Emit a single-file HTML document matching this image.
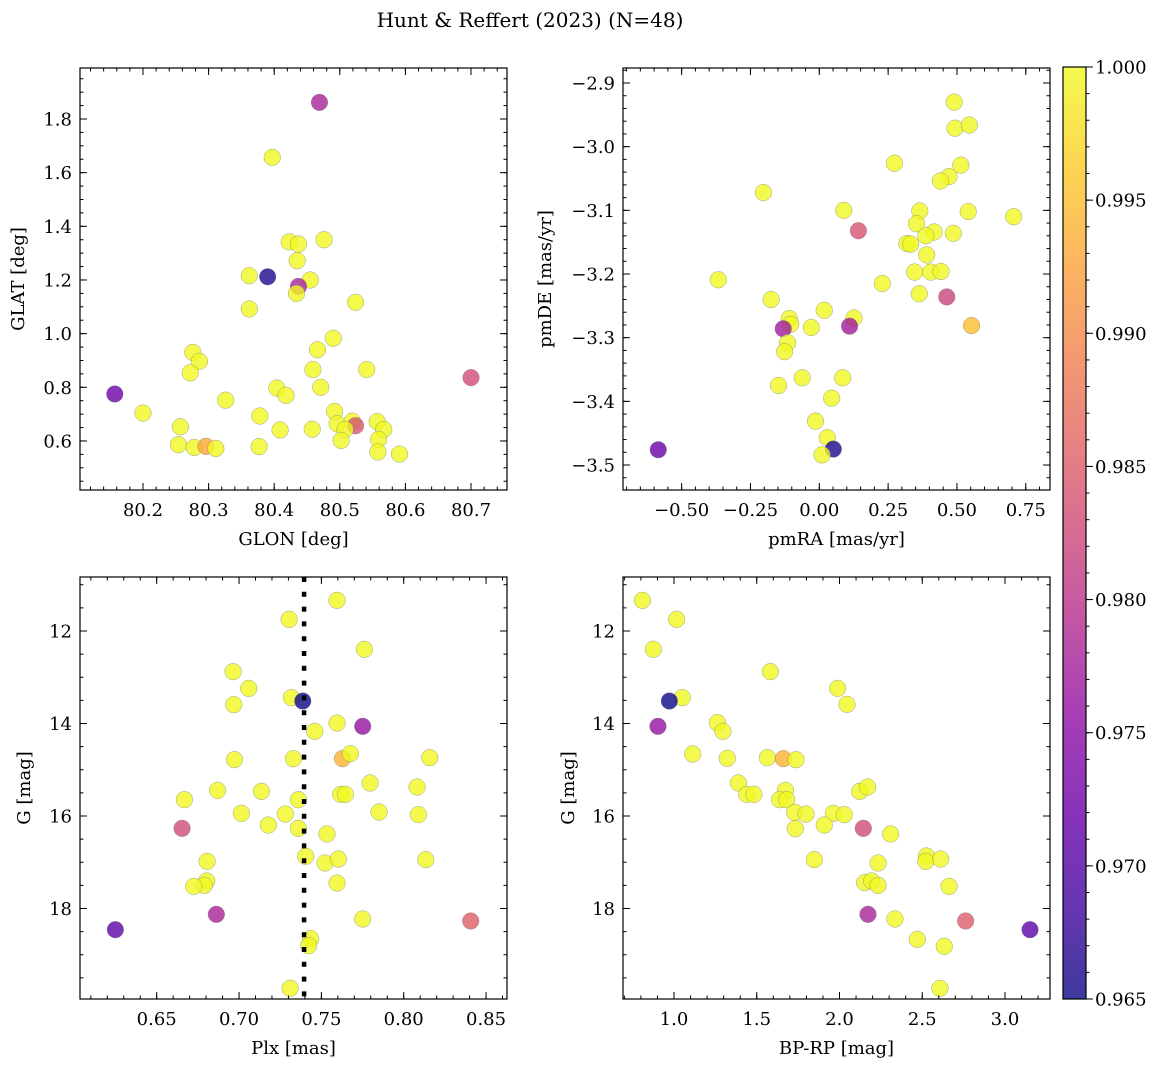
<!DOCTYPE html>
<html><head><meta charset="utf-8"><style>
html,body{margin:0;padding:0;background:#fff;}
svg{display:block;font-family:"DejaVu Serif","Liberation Serif",serif;}
text{font-family:"DejaVu Serif","Liberation Serif",serif;}
</style></head><body>
<svg id="fig" width="1160" height="1067" viewBox="0 0 1160 1067" xmlns="http://www.w3.org/2000/svg">
<text x="530" y="27" font-size="20" text-anchor="middle">Hunt &amp; Reffert (2023) (N=48)</text>
</svg>
<script>
// ---- data ----
const tlGlon=[80.469,80.397,80.423,80.437,80.476,80.435,80.362,80.390,80.455,80.437,80.434,80.524,80.362,80.490,80.466,80.276,80.286,80.272,80.459,80.541,80.700,80.157,80.404,80.418,80.471,80.326,80.200,80.378,80.492,80.496,80.519,80.524,80.508,80.557,80.567,80.559,80.558,80.591,80.502,80.458,80.409,80.377,80.257,80.254,80.278,80.296,80.311];
const tlGlat=[1.862,1.657,1.342,1.334,1.350,1.272,1.216,1.212,1.200,1.176,1.150,1.117,1.092,0.983,0.940,0.930,0.897,0.854,0.866,0.866,0.836,0.775,0.797,0.770,0.800,0.752,0.704,0.693,0.710,0.664,0.674,0.657,0.643,0.672,0.643,0.606,0.559,0.551,0.602,0.644,0.641,0.579,0.653,0.586,0.576,0.580,0.572];
const tlProb=[0.978,1,1,1,1,1,1,0.966,1,0.978,1,1,1,1,1,1,1,1,1,1,0.983,0.972,1,1,1,1,1,1,1,1,1,0.984,1,1,1,1,1,1,1,1,1,1,1,1,1,0.993,1];

const trPmra=[0.490,0.493,0.545,0.273,0.514,0.471,0.440,-0.203,0.089,0.365,0.541,0.706,0.142,0.353,0.417,0.387,0.487,0.318,0.332,0.390,0.346,0.405,0.442,-0.367,0.229,0.363,0.463,-0.175,0.018,-0.109,0.126,-0.104,-0.131,0.110,-0.029,0.553,-0.115,-0.126,-0.062,0.085,-0.148,0.045,-0.014,0.029,0.051,0.010,-0.585];
const trPmde=[-2.930,-2.971,-2.966,-3.026,-3.029,-3.047,-3.054,-3.072,-3.100,-3.101,-3.102,-3.110,-3.132,-3.121,-3.134,-3.140,-3.136,-3.152,-3.153,-3.170,-3.197,-3.197,-3.196,-3.209,-3.215,-3.231,-3.236,-3.240,-3.257,-3.270,-3.269,-3.279,-3.286,-3.282,-3.284,-3.281,-3.308,-3.322,-3.363,-3.363,-3.375,-3.395,-3.431,-3.457,-3.475,-3.484,-3.476];
const trProb=[1,1,1,1,1,1,1,1,1,1,1,1,0.984,1,1,1,1,1,1,1,1,1,1,1,1,1,0.982,1,1,1,1,1,0.977,0.977,1,0.995,1,1,1,1,1,1,1,1,0.966,1,0.972];

const blPlx=[0.7595,0.7304,0.7761,0.6964,0.7059,0.7318,0.7387,0.6968,0.7595,0.7751,0.7460,0.6972,0.7330,0.7628,0.7676,0.8158,0.7796,0.8081,0.6870,0.7136,0.6668,0.7360,0.7617,0.7646,0.7014,0.7281,0.7850,0.8089,0.6654,0.7178,0.7360,0.7534,0.7405,0.7522,0.7603,0.8134,0.6806,0.6804,0.6789,0.6725,0.7595,0.6862,0.7751,0.8407,0.6249,0.7435,0.7423,0.7310];
const blG=[11.337,11.748,12.396,12.879,13.240,13.441,13.514,13.593,13.989,14.061,14.169,14.782,14.760,14.760,14.652,14.739,15.286,15.373,15.445,15.467,15.647,15.647,15.532,15.532,15.942,15.957,15.914,15.971,16.267,16.195,16.267,16.389,16.872,17.016,16.930,16.944,16.980,17.405,17.499,17.521,17.449,18.126,18.227,18.270,18.458,18.652,18.804,19.726];
const blProb=[1,1,1,1,1,1,0.965,1,1,0.976,1,1,1,0.994,1,1,1,1,1,1,1,1,1,1,1,1,1,1,0.983,1,1,1,1,1,1,1,1,1,1,1,1,0.978,1,0.985,0.971,1,1,1];
const plxMean=[0.7395];

const brBprp=[0.809,1.016,0.875,1.582,1.989,2.045,1.050,0.972,0.903,1.262,1.296,1.113,1.322,1.564,1.661,1.737,1.389,1.439,1.483,1.673,1.638,1.681,1.729,1.798,1.963,2.029,2.122,2.170,1.733,1.908,2.144,2.309,1.848,2.233,2.525,2.521,2.611,2.152,2.194,2.233,2.662,2.172,2.335,2.762,3.151,2.470,2.633,2.607];
const brG=[11.337,11.748,12.396,12.879,13.240,13.586,13.441,13.514,14.061,13.982,14.169,14.659,14.753,14.739,14.760,14.782,15.286,15.532,15.532,15.445,15.647,15.647,15.921,15.957,15.942,15.971,15.467,15.373,16.274,16.195,16.267,16.389,16.944,17.016,16.865,16.980,16.930,17.441,17.405,17.499,17.521,18.126,18.227,18.270,18.458,18.667,18.818,19.726];
const brProb=[1,1,1,1,1,1,1,0.965,0.976,1,1,1,1,1,0.994,1,1,1,1,1,1,1,1,1,1,1,1,1,1,1,0.983,1,1,1,1,1,1,1,1,1,1,0.978,1,0.985,0.971,1,1,1];

const tlXTicks=[80.2,80.3,80.4,80.5,80.6,80.7];
const tlYTicks=[0.6,0.8,1.0,1.2,1.4,1.6,1.8];
const trXTicks=[-0.5,-0.25,0,0.25,0.5,0.75];
const trYTicks=[-3.5,-3.4,-3.3,-3.2,-3.1,-3.0,-2.9];
const blXTicks=[0.65,0.70,0.75,0.80,0.85];
const gTicks=[12,14,16,18];
const brXTicks=[1.0,1.5,2.0,2.5,3.0];
const cbTicks=[0.965,0.970,0.975,0.980,0.985,0.990,0.995,1.000];
const cbMin=0.965, cbMax=1.0;

const NS="http://www.w3.org/2000/svg";
const svg=document.getElementById('fig');
function mk(tag,attrs,parent){const e=document.createElementNS(NS,tag);for(const k in attrs)e.setAttribute(k,attrs[k]);(parent||svg).appendChild(e);return e;}
const plasma=[[13,8,135],[65,4,157],[106,0,168],[143,13,164],[177,42,144],[204,71,120],[225,100,98],[242,132,75],[252,166,54],[252,206,37],[240,249,33]];
function cmap(v){let t=(v-cbMin)/(cbMax-cbMin);t=Math.max(0,Math.min(1,t));const f=t*10,i=Math.min(9,Math.floor(f)),r=f-i;const a=plasma[i],b=plasma[i+1];return 'rgb('+a.map((c,k)=>Math.round(c+(b[k]-c)*r)).join(',')+')';}
function fmt(v,d){return v<0?'\u2212'+Math.abs(v).toFixed(d):v.toFixed(d);}
const FS=18;

function panel(o){
  const g=mk('g',{});
  
  
  const X=v=>o.px0+(v-o.vx0)*o.sx;
  const Y=v=>o.py0-(v-o.vy0)*o.sy;
  const L=o.L,R=o.R,T=o.T,B=o.B;
  const pts=mk('g',{},g);
  
  
  for(let i=0;i<o.xs.length;i++){
    const c=mk('circle',{cx:X(o.xs[i]),cy:Y(o.ys[i]),r:8.3,fill:cmap(o.ps[i]),'fill-opacity':0.8,stroke:'#777','stroke-width':0.5,'stroke-opacity':0.7},pts);
    
    
  }
  if(o.vline){const lx=X(o.vline[0]);const ln=mk('line',{x1:lx,x2:lx,y1:T,y2:B,stroke:'#000','stroke-width':4.5,'stroke-dasharray':'5 9.8'},g);
    
    }
  const ax=mk('g',{stroke:'#000','stroke-width':1},g);
  
  
  const xmin=o.vx0+(L-o.px0)/o.sx, xmax=o.vx0+(R-o.px0)/o.sx;
  for(let k=Math.ceil(xmin/o.xminor-1e-6);k*o.xminor<=xmax+1e-9;k++){const x=X(k*o.xminor);if(x<L+0.5||x>R-0.5)continue;
    mk('line',{x1:x,x2:x,y1:B,y2:B-3.5},ax);mk('line',{x1:x,x2:x,y1:T,y2:T+3.5},ax);}
  const ymin=o.vy0-(B-o.py0)/o.sy, ymax=o.vy0+(o.py0-T)/o.sy;
  const ylo=Math.min(ymin,ymax),yhi=Math.max(ymin,ymax);
  for(let k=Math.ceil(ylo/o.yminor-1e-6);k*o.yminor<=yhi+1e-9;k++){const y=Y(k*o.yminor);if(y<T+0.5||y>B-0.5)continue;
    mk('line',{x1:L,x2:L+3.5,y1:y,y2:y},ax);mk('line',{x1:R,x2:R-3.5,y1:y,y2:y},ax);}
  o.xt.forEach(v=>{const x=X(v);mk('line',{x1:x,x2:x,y1:B,y2:B-7},ax);mk('line',{x1:x,x2:x,y1:T,y2:T+7},ax);
    const t=mk('text',{x:x,y:B+26,'font-size':FS,'text-anchor':'middle',stroke:'none'},g);t.textContent=fmt(v,o.xd);
    
    });
  o.yt.forEach(v=>{const y=Y(v);mk('line',{x1:L,x2:L+7,y1:y,y2:y},ax);mk('line',{x1:R,x2:R-7,y1:y,y2:y},ax);
    const t=mk('text',{x:L-8,y:y+6.5,'font-size':FS,'text-anchor':'end',stroke:'none'},g);t.textContent=fmt(v,o.yd);
    
    });
  mk('rect',{x:L,y:T,width:R-L,height:B-T,fill:'none',stroke:'#000','stroke-width':1.2},ax);
  const xl=mk('text',{x:(L+R)/2,y:B+55,'font-size':FS,'text-anchor':'middle'},g);xl.textContent=o.xlab;
  
  
  const yl=mk('text',{x:0,y:0,'font-size':FS,'text-anchor':'middle',transform:'translate('+o.ylx+','+(T+B)/2+') rotate(-90)'},g);yl.textContent=o.ylab;
  
  
}
panel({name:'glon-glat-panel',L:80,R:507,T:68,B:490,px0:143,vx0:80.2,sx:656,py0:119,vy0:1.8,sy:268.3,xs:tlGlon,ys:tlGlat,ps:tlProb,xt:tlXTicks,yt:tlYTicks,xd:1,yd:1,xminor:0.02,yminor:0.05,xlab:'GLON [deg]',ylab:'GLAT [deg]',ylx:24});
panel({name:'proper-motion-panel',L:623,R:1050,T:68,B:490,px0:819.3,vx0:0,sx:275.3,py0:83,vy0:-2.9,sy:636.7,xs:trPmra,ys:trPmde,ps:trProb,xt:trXTicks,yt:trYTicks,xd:2,yd:1,xminor:0.05,yminor:0.02,xlab:'pmRA [mas/yr]',ylab:'pmDE [mas/yr]',ylx:551});
panel({name:'parallax-panel',L:80,R:507,T:577,B:999,px0:156.7,vx0:0.65,sx:1646.7,py0:631,vy0:12,sy:-46.25,xs:blPlx,ys:blG,ps:blProb,xt:blXTicks,yt:gTicks,xd:2,yd:0,xminor:0.01,yminor:0.5,xlab:'Plx [mas]',ylab:'G [mag]',ylx:30,vline:plxMean});
panel({name:'cmd-panel',L:623,R:1050,T:577,B:999,px0:674,vx0:1.0,sx:165.5,py0:631,vy0:12,sy:-46.25,xs:brBprp,ys:brG,ps:brProb,xt:brXTicks,yt:gTicks,xd:1,yd:0,xminor:0.1,yminor:0.5,xlab:'BP-RP [mag]',ylab:'G [mag]',ylx:574});

const cb=mk('g',{});


const defs=mk('defs',{},cb);const lg=mk('linearGradient',{id:'cbg',x1:0,y1:1,x2:0,y2:0},defs);
plasma.forEach((c,i)=>mk('stop',{offset:i/10,'stop-color':'rgb('+c.join(',')+')'},lg));
const cL=1063,cR=1086,cT=67,cB=999;
mk('rect',{x:cL,y:cT,width:cR-cL,height:cB-cT,fill:'url(#cbg)','fill-opacity':0.8},cb);
const CY=v=>cB-(v-cbMin)/(cbMax-cbMin)*(cB-cT);
for(let k=0;k<=35;k++){const y=CY(cbMin+k*0.001);mk('line',{x1:cR,x2:cR+3.5,y1:y,y2:y,stroke:'#000'},cb);}
cbTicks.forEach(v=>{const y=CY(v);mk('line',{x1:cR,x2:cR+7,y1:y,y2:y,stroke:'#000'},cb);
  const t=mk('text',{x:cR+9,y:y+6.5,'font-size':FS},cb);t.textContent=v.toFixed(3);
  
  });
mk('rect',{x:cL,y:cT,width:cR-cL,height:cB-cT,fill:'none',stroke:'#000','stroke-width':1.2},cb);
</script>
</body></html>
